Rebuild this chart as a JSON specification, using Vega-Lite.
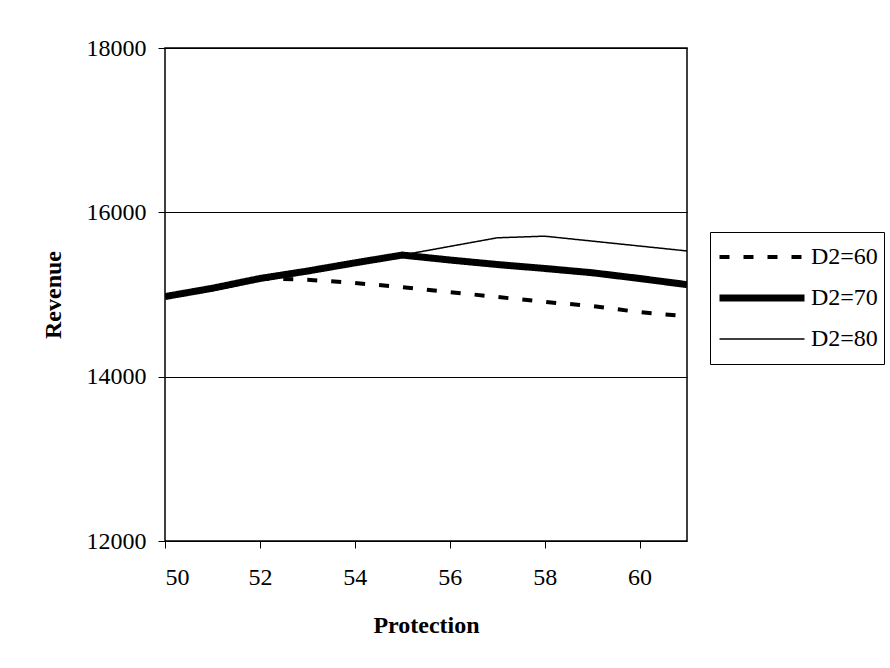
{
  "$schema": "https://vega.github.io/schema/vega-lite/v6.json",
  "width": 522,
  "height": 493,
  "autosize": {"type": "none"},
  "padding": {"left": 165, "top": 48, "right": 203, "bottom": 127},
  "background": "white",
  "config": {
    "font": "Liberation Serif",
    "view": {"stroke": "black", "strokeWidth": 1.5},
    "axis": {"labelFont": "Liberation Serif", "titleFont": "Liberation Serif", "labelColor": "black", "titleColor": "black", "domain": false, "tickColor": "black", "labelFontSize": 24, "titleFontSize": 24, "titleFontWeight": "bold"},
    "legend": {"labelFont": "Liberation Serif", "labelFontSize": 24}
  },
  "data": {
    "values": [
      {"p": 50, "series": "D2=60", "rev": 14975},
      {"p": 51, "series": "D2=60", "rev": 15076},
      {"p": 52, "series": "D2=60", "rev": 15195},
      {"p": 53, "series": "D2=60", "rev": 15180},
      {"p": 54, "series": "D2=60", "rev": 15140},
      {"p": 55, "series": "D2=60", "rev": 15090},
      {"p": 56, "series": "D2=60", "rev": 15030},
      {"p": 57, "series": "D2=60", "rev": 14970},
      {"p": 58, "series": "D2=60", "rev": 14910},
      {"p": 59, "series": "D2=60", "rev": 14860},
      {"p": 60, "series": "D2=60", "rev": 14785},
      {"p": 61, "series": "D2=60", "rev": 14735},
      {"p": 50, "series": "D2=70", "rev": 14975},
      {"p": 51, "series": "D2=70", "rev": 15076},
      {"p": 52, "series": "D2=70", "rev": 15195},
      {"p": 53, "series": "D2=70", "rev": 15285},
      {"p": 54, "series": "D2=70", "rev": 15385},
      {"p": 55, "series": "D2=70", "rev": 15480},
      {"p": 56, "series": "D2=70", "rev": 15420},
      {"p": 57, "series": "D2=70", "rev": 15365},
      {"p": 58, "series": "D2=70", "rev": 15317},
      {"p": 59, "series": "D2=70", "rev": 15265},
      {"p": 60, "series": "D2=70", "rev": 15195},
      {"p": 61, "series": "D2=70", "rev": 15120},
      {"p": 50, "series": "D2=80", "rev": 14975},
      {"p": 51, "series": "D2=80", "rev": 15076},
      {"p": 52, "series": "D2=80", "rev": 15195},
      {"p": 53, "series": "D2=80", "rev": 15285},
      {"p": 54, "series": "D2=80", "rev": 15385},
      {"p": 55, "series": "D2=80", "rev": 15480},
      {"p": 56, "series": "D2=80", "rev": 15585},
      {"p": 57, "series": "D2=80", "rev": 15690},
      {"p": 58, "series": "D2=80", "rev": 15710},
      {"p": 59, "series": "D2=80", "rev": 15650},
      {"p": 60, "series": "D2=80", "rev": 15590},
      {"p": 61, "series": "D2=80", "rev": 15530}
    ]
  },
  "mark": {"type": "line", "color": "black", "strokeCap": "butt", "strokeJoin": "round", "clip": true},
  "encoding": {
    "x": {
      "field": "p", "type": "quantitative", "title": "Protection",
      "scale": {"domain": [50, 61], "nice": false, "zero": false},
      "axis": {"values": [50, 52, 54, 56, 58, 60], "grid": false, "tickSize": 7, "labelPadding": 17, "titlePadding": 24, "labelFont": "Liberation Serif", "titleFont": "Liberation Serif"}
    },
    "y": {
      "field": "rev", "type": "quantitative", "title": "Revenue",
      "scale": {"domain": [12000, 18000], "nice": false, "zero": false},
      "axis": {"values": [12000, 14000, 16000, 18000], "format": "d", "grid": true, "gridColor": "black", "gridOpacity": 1, "gridWidth": 1, "tickSize": 7, "labelPadding": 12, "titleX": -100, "labelFont": "Liberation Serif", "titleFont": "Liberation Serif"}
    },
    "strokeDash": {
      "field": "series", "type": "nominal", "title": null,
      "scale": {"domain": ["D2=60", "D2=70", "D2=80"], "range": [[10, 14], [1, 0], [1, 0]]}
    },
    "strokeWidth": {
      "field": "series", "type": "nominal", "title": null,
      "scale": {"type": "ordinal", "domain": ["D2=60", "D2=70", "D2=80"], "range": [4, 7, 1.5]},
      "legend": {
        "orient": "none", "legendX": 545, "legendY": 184,
        "strokeColor": "black", "fillColor": "white", "padding": 6,
        "symbolType": "stroke", "symbolSize": 7225, "symbolStrokeColor": "black",
        "labelFont": "Liberation Serif", "labelFontSize": 24, "labelColor": "black",
        "clipHeight": 38, "rowPadding": 3, "labelOffset": 3
      }
    }
  }
}
